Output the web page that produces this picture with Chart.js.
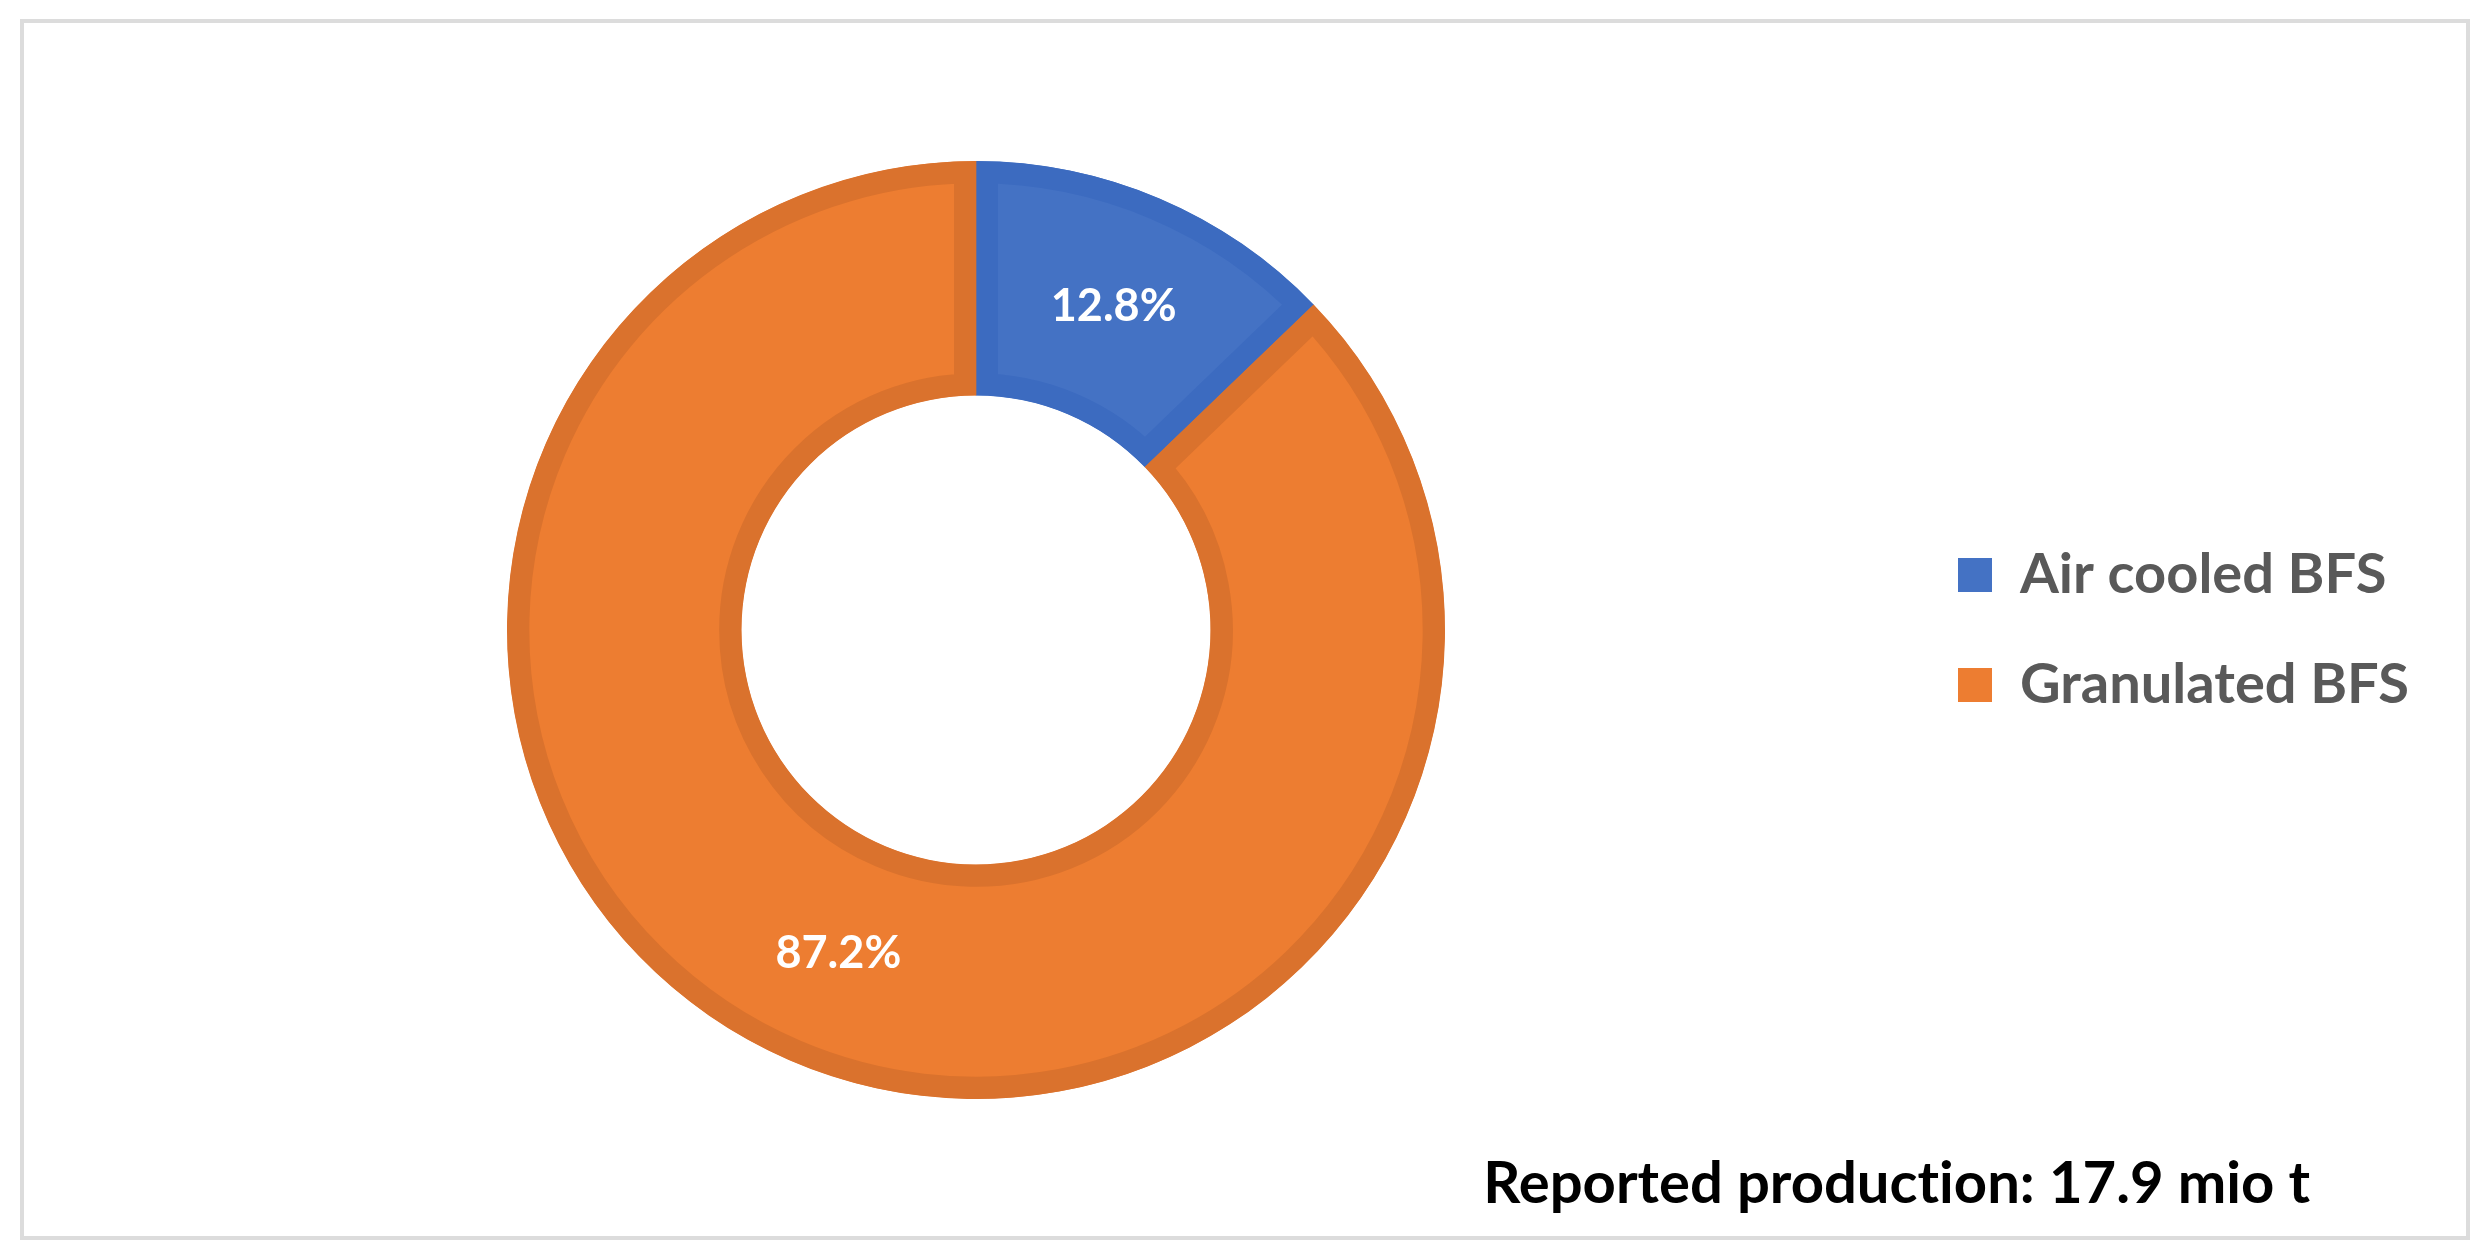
<!DOCTYPE html>
<html>
<head>
<meta charset="utf-8">
<script src="https://cdn.jsdelivr.net/npm/chart.js@4.4.1/dist/chart.umd.min.js"></script>
<style>
  html, body { margin: 0; padding: 0; background: #fff; }
  #stage { position: relative; width: 2490px; height: 1260px; overflow: hidden; }
  #frame {
    position: absolute; left: 20px; top: 19px; width: 2450px; height: 1221px;
    box-sizing: border-box; border: 4px solid #dcdcdc;
  }
  #chart { position: absolute; left: 0; top: 0; }
  #note {
    position: absolute; right: 180px; top: 1146px;
    font: bold 58px Lato, "Open Sans", sans-serif; line-height: 1.2;
    font-variant-ligatures: none;
    color: #000; white-space: nowrap;
  }
</style>
</head>
<body>
<div id="stage">
  <div id="frame"></div>
  <canvas id="chart" width="2490" height="1260"></canvas>
  <div id="note">Reported production: 17.9 mio t</div>
</div>
<script>
// --- données ---
const categories = ["Air cooled BFS", "Granulated BFS"];
const shares = [12.8, 87.2];            // %
const fillColors = ["#4472C4", "#ED7D31"];
const edgeColors = ["#3C6BC0", "#DA722D"];

const FONT = "Lato, 'Open Sans', sans-serif";
const LEGEND_SIZE = 56;
const LEGEND_PAD = 54;
const BOX = 34;

// largeur du texte de légende le plus long -> marge droite pour placer la légende
const ctx = document.getElementById("chart").getContext("2d");
ctx.font = `bold ${LEGEND_SIZE}px ${FONT}`;
const textW = Math.max(...categories.map(c => ctx.measureText(c).width));
const legendLeft = 1904;
const legendW = LEGEND_PAD + BOX + LEGEND_SIZE / 2 + textW + 10;
const padRight = Math.max(0, 2490 - legendLeft - legendW);

// Étiquettes de pourcentage au centre de chaque part
const sliceLabels = {
  id: "sliceLabels",
  afterDatasetsDraw(chart) {
    const c = chart.ctx;
    const meta = chart.getDatasetMeta(0);
    c.save();
    c.font = `bold 45px ${FONT}`;
    c.fillStyle = "#ffffff";
    c.textAlign = "center";
    c.textBaseline = "middle";
    meta.data.forEach((arc, i) => {
      const p = arc.tooltipPosition();
      c.fillText(shares[i].toFixed(1) + "%", p.x, p.y);
    });
    c.restore();
  }
};

new Chart(document.getElementById("chart"), {
  type: "doughnut",
  data: {
    labels: categories,
    datasets: [{
      data: shares,
      backgroundColor: fillColors,
      borderColor: edgeColors,
      borderWidth: 22,
      borderAlign: "inner"
    }]
  },
  options: {
    responsive: false,
    animation: false,
    cutout: "50%",
    layout: { padding: { top: 161, bottom: 161, left: 48, right: padRight } },
    plugins: {
      tooltip: { enabled: false },
      legend: {
        position: "right",
        labels: {
          boxWidth: BOX,
          boxHeight: BOX,
          padding: LEGEND_PAD,
          color: "#595959",
          font: { family: FONT, size: LEGEND_SIZE, weight: "bold" },
          generateLabels: (chart) =>
            Chart.overrides.doughnut.plugins.legend.labels.generateLabels(chart)
              .map(l => ({ ...l, lineWidth: 0, strokeStyle: "transparent" }))
        }
      }
    }
  },
  plugins: [sliceLabels]
});
</script>
</body>
</html>
